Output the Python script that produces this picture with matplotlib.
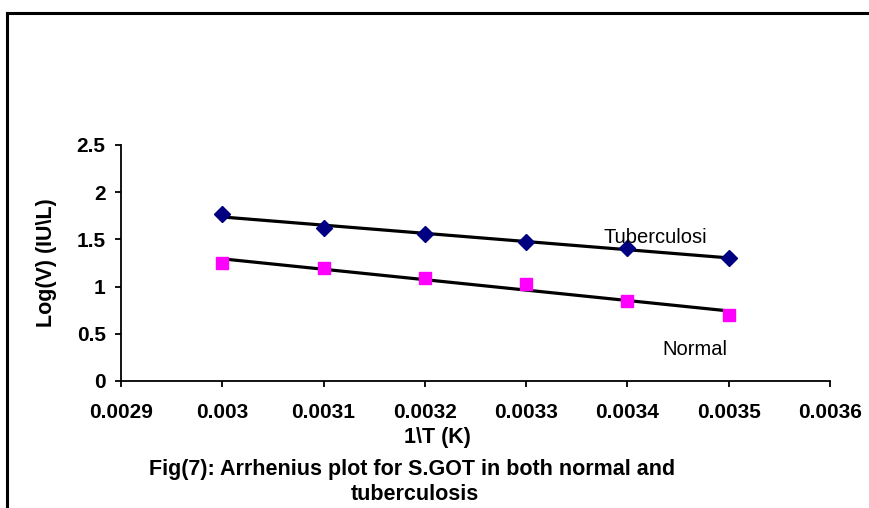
import numpy as np
import matplotlib
matplotlib.use("Agg")
import matplotlib.pyplot as plt
from matplotlib.lines import Line2D

# 1/T values and log(V) for both groups
inv_t = [0.0030, 0.0031, 0.0032, 0.0033, 0.0034, 0.0035]
tuberculosis = [1.766, 1.617, 1.557, 1.476, 1.409, 1.300]
normal = [1.253, 1.194, 1.088, 1.024, 0.851, 0.699]

x_ticks = [0.0029, 0.0030, 0.0031, 0.0032, 0.0033, 0.0034, 0.0035, 0.0036]
x_tick_labels = ["0.0029", "0.003", "0.0031", "0.0032", "0.0033", "0.0034", "0.0035", "0.0036"]
y_ticks = [0, 0.5, 1, 1.5, 2, 2.5]
y_tick_labels = ["0", "0.5", "1", "1.5", "2", "2.5"]

plt.rcParams["font.family"] = ["Liberation Sans", "DejaVu Sans"]

fig = plt.figure(figsize=(8.7, 5.08), dpi=100)
ax = fig.add_axes([121 / 870, 1 - 381 / 508, (830 - 121) / 870, (381 - 145) / 508])

x = np.array(inv_t)
# linear trend lines
for ys in (tuberculosis, normal):
    k, b = np.polyfit(x, ys, 1)
    ax.plot(x, k * x + b, color="black", lw=2.3, zorder=2)

ax.plot(inv_t, tuberculosis, linestyle="none", marker="D", color="#000080",
        markersize=8, zorder=3)
ax.plot(inv_t, normal, linestyle="none", marker="s", color="#ff00ff",
        markersize=8, zorder=3)

ax.set_xlim(0.0029, 0.0036)
ax.set_ylim(0, 2.5)
ax.set_xticks(x_ticks)
ax.set_xticklabels(x_tick_labels)
ax.set_yticks(y_ticks)
ax.set_yticklabels(y_tick_labels)
ax.spines["top"].set_visible(False)
ax.spines["right"].set_visible(False)
for s in ("left", "bottom"):
    ax.spines[s].set_linewidth(1.3)
ax.tick_params(direction="out", length=4, width=1.3, labelsize=15)
ax.tick_params(axis="x", pad=12)
ax.tick_params(axis="y", pad=7)
for lab in ax.get_xticklabels() + ax.get_yticklabels():
    lab.set_fontweight("bold")

ax.text(0.003376, 1.515, "Tuberculosi", fontsize=14.5, ha="left", va="center")
ax.text(0.003467, 0.33, "Normal", fontsize=14.5, ha="center", va="center")

fig.text(47 / 870, 1 - 263 / 508, "Log(V) (IU\\L)", rotation=90, fontsize=15.5,
         fontweight="bold", ha="center", va="center")
fig.text(437 / 870, 1 - 438 / 508, "1\\T (K)", fontsize=15.5, fontweight="bold",
         ha="center", va="center")
fig.text(412 / 870, 1 - 470 / 508, "Fig(7): Arrhenius plot for S.GOT in both normal and",
         fontsize=15.5, fontweight="bold", ha="center", va="center")
fig.text(415 / 870, 1 - 495 / 508, "tuberculosis", fontsize=15.5, fontweight="bold",
         ha="center", va="center")

# outer frame (only left and top edges visible)
fig.add_artist(Line2D([7 / 870, 7 / 870], [0, 1 - 13 / 508], color="black", lw=2.2,
                      transform=fig.transFigure))
fig.add_artist(Line2D([7 / 870, 1], [1 - 13 / 508, 1 - 13 / 508], color="black", lw=2.2,
                      transform=fig.transFigure))

fig.savefig("out.png", dpi=100)
